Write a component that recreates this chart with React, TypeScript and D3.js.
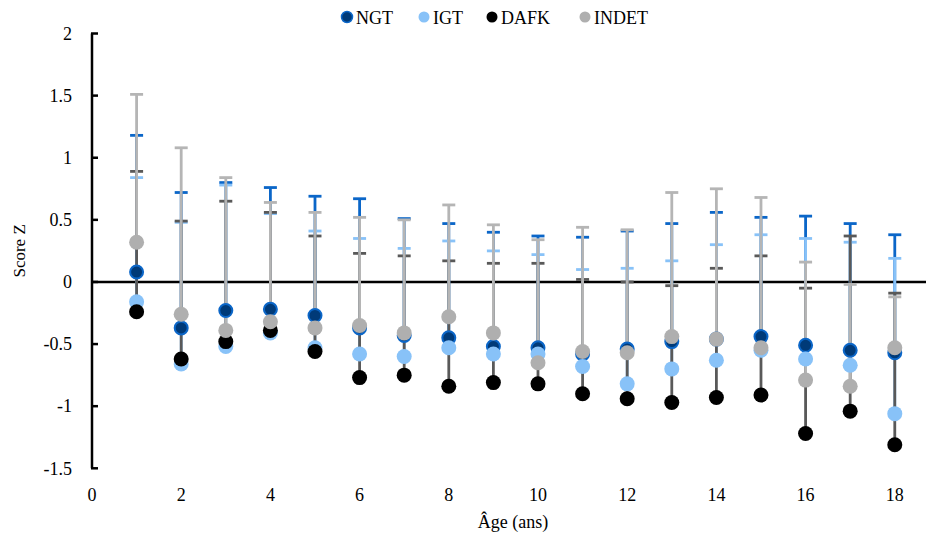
import React, { useEffect } from 'react';
import * as d3 from 'd3';

// age categories (years)
const ages = [1, 2, 3, 4, 5, 6, 7, 8, 9, 10, 11, 12, 13, 14, 15, 16, 17, 18];

// mean z-scores and upper end of the error bar for each group
const ngt = [0.08, -0.37, -0.23, -0.22, -0.27, -0.37, -0.43, -0.45, -0.52, -0.53, -0.58, -0.54, -0.48, -0.46, -0.44, -0.51, -0.55, -0.57];
const ngtUpper = [1.18, 0.72, 0.8, 0.76, 0.69, 0.67, 0.51, 0.47, 0.4, 0.37, 0.36, 0.41, 0.47, 0.56, 0.52, 0.53, 0.47, 0.38];

const igt = [-0.16, -0.66, -0.52, -0.41, -0.53, -0.58, -0.6, -0.53, -0.58, -0.58, -0.68, -0.82, -0.7, -0.63, -0.55, -0.62, -0.67, -1.06];
const igtUpper = [0.84, 0.48, 0.78, 0.55, 0.41, 0.35, 0.27, 0.33, 0.25, 0.22, 0.1, 0.11, 0.17, 0.3, 0.38, 0.35, 0.32, 0.19];

const dafk = [-0.24, -0.62, -0.48, -0.39, -0.56, -0.77, -0.75, -0.84, -0.81, -0.82, -0.9, -0.94, -0.97, -0.93, -0.91, -1.22, -1.04, -1.31];
const dafkUpper = [0.89, 0.49, 0.65, 0.56, 0.37, 0.23, 0.21, 0.17, 0.15, 0.15, 0.02, 0.0, -0.03, 0.11, 0.21, -0.05, 0.37, -0.09];

const indet = [0.32, -0.26, -0.39, -0.32, -0.37, -0.35, -0.41, -0.28, -0.41, -0.65, -0.56, -0.57, -0.44, -0.46, -0.53, -0.79, -0.84, -0.53];
const indetUpper = [1.51, 1.08, 0.84, 0.64, 0.56, 0.52, 0.5, 0.62, 0.46, 0.34, 0.44, 0.42, 0.72, 0.75, 0.68, 0.16, -0.02, -0.12];

const xTicks = [0, 2, 4, 6, 8, 10, 12, 14, 16, 18];
const yTicks = [-1.5, -1, -0.5, 0, 0.5, 1, 1.5, 2];

const series = [
  { name: 'NGT', values: ngt, upper: ngtUpper, fill: '#003a78', stroke: '#0b66c8', bar: '#0b66c8', legendX: 347 },
  { name: 'IGT', values: igt, upper: igtUpper, fill: '#88c2f8', stroke: '#88c2f8', bar: '#88c2f8', legendX: 424 },
  { name: 'DAFK', values: dafk, upper: dafkUpper, fill: '#000000', stroke: '#000000', bar: '#595959', legendX: 492 },
  { name: 'INDET', values: indet, upper: indetUpper, fill: '#afafaf', stroke: '#afafaf', bar: '#b5b5b5', legendX: 585 },
];

const font = '"Liberation Serif", "Times New Roman", serif';

export default function App() {
  useEffect(() => {
    document.body.style.margin = '0';
  }, []);

  const x = d3.scaleLinear().domain([0, 18.7]).range([92, 926]);
  const y = d3.scaleLinear().domain([-1.5, 2]).range([468.3, 33.5]);
  const cap = 6.5;

  return (
    <svg width={931} height={542} style={{ display: 'block', background: '#fff' }} fontFamily={font}>
      {/* legend */}
      {series.map((s) => (
        <g key={'lg' + s.name}>
          <circle cx={s.legendX} cy={17} r={5.5} fill={s.fill} stroke={s.stroke} strokeWidth={s.name === 'NGT' ? 1.5 : 0} />
          <text x={s.legendX + 9} y={23.5} fontSize={18} fill="#000">{s.name}</text>
        </g>
      ))}

      {/* y axis */}
      <line x1={92} x2={92} y1={y(2)} y2={y(-1.5)} stroke="#000" strokeWidth={2.5} />
      {yTicks.map((t) => (
        <g key={'yt' + t}>
          <line x1={91} x2={98} y1={y(t)} y2={y(t)} stroke="#000" strokeWidth={2.5} />
          <text x={72} y={y(t)} dy="0.35em" textAnchor="end" fontSize={18} fill="#000">{t}</text>
        </g>
      ))}
      <text transform={`translate(25,${y(0.25)}) rotate(-90)`} textAnchor="middle" fontSize={17} fill="#000">Score Z</text>

      {/* zero line */}
      <line x1={92} x2={926} y1={y(0)} y2={y(0)} stroke="#000" strokeWidth={2.5} />

      {/* x tick labels */}
      {xTicks.map((t) => (
        <text key={'xt' + t} x={x(t)} y={501} textAnchor="middle" fontSize={18} fill="#000">{t}</text>
      ))}
      <text x={513} y={528} textAnchor="middle" fontSize={18} fill="#000">Âge (ans)</text>

      {/* error bars (upper only) */}
      {series.map((s) => (
        <g key={'eb' + s.name}>
          {ages.map((a, i) => (
            <g key={a}>
              <line x1={x(a)} x2={x(a)} y1={y(s.values[i])} y2={y(s.upper[i])} stroke={s.bar} strokeWidth={2.8} />
              <line x1={x(a) - cap} x2={x(a) + cap} y1={y(s.upper[i])} y2={y(s.upper[i])} stroke={s.bar} strokeWidth={2.8} />
            </g>
          ))}
        </g>
      ))}

      {/* markers */}
      {series.map((s) => (
        <g key={'mk' + s.name}>
          {ages.map((a, i) => (
            <circle
              key={a}
              cx={x(a)}
              cy={y(s.values[i])}
              r={s.name === 'NGT' ? 6.5 : 7.5}
              fill={s.fill}
              stroke={s.stroke}
              strokeWidth={s.name === 'NGT' ? 2 : 0}
            />
          ))}
        </g>
      ))}
    </svg>
  );
}
